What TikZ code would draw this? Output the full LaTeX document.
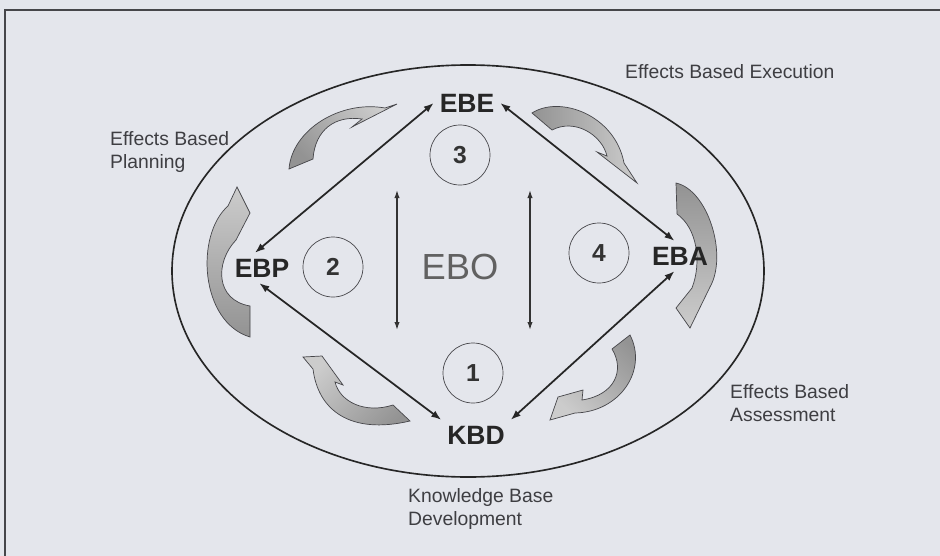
\documentclass[tikz,border=0pt]{standalone}
\usepackage{fontspec}
\setmainfont{Liberation Sans}
\usetikzlibrary{arrows.meta}

\definecolor{papier}{RGB}{228,230,236}
\definecolor{schrift}{RGB}{62,62,66}
\definecolor{rand}{RGB}{70,70,74}

\tikzset{
	phase/.style={font=\fontsize{22.6}{26}\selectfont\bfseries, text=black!85, inner sep=5pt},
	nummer/.style={circle, draw=rand, line width=0.6pt, minimum size=1.8cm, inner sep=0pt,
		font=\fontsize{21}{24}\selectfont\bfseries, text=black!80},
	beschr/.style={font=\fontsize{16.5}{19}\selectfont, text=schrift, align=left, anchor=west, inner sep=0pt},
	pfeil/.style={line width=1.5pt, draw=black!85, {Latex[length=3mm,width=2.2mm]}-{Latex[length=3mm,width=2.2mm]}},
	hochpfeil/.style={line width=1.1pt, draw=black!80, {Latex[length=2.4mm,width=1.6mm]}-{Latex[length=2.4mm,width=1.6mm]}},
	bogen/.style={draw=rand, line width=0.6pt, top color=gray!85, bottom color=gray!40, shading angle=#1}
}

\begin{document}
\begin{tikzpicture}[x=0.03cm, y=-0.03cm]
		%Hintergrund und Rahmen
		\fill [papier] (0,0) rectangle (940,556);
		\useasboundingbox (0,0) rectangle (940,556);
		\draw [line width=1.4pt, rand] (5,556) -- (5,10) -- (940,10);
		
		%Ellipse
		\draw [line width=1.4pt, black!85] (468,271) ellipse [x radius=296, y radius=206];
		
		%Kreislauf-Pfeile
		\shade[bogen=135] (289,169) .. controls (292,130) and (340,100) .. (385,108) -- (397,104) -- (352,127) -- (362,119) .. controls (335,115) and (315,130) .. (313,159) -- cycle;
		\shade[bogen=180] (250,337) .. controls (200,322) and (195,235) .. (228,206) -- (237,187) -- (250,213) -- (236,240) .. controls (215,262) and (215,300) .. (250,306) -- cycle;
		\shade[bogen=225] (410,421) .. controls (350,435) and (318,410) .. (313,369) -- (303,357) -- (322,356) -- (343,385) -- (335,382) .. controls (340,402) and (365,414) .. (393,405) -- cycle;
		\shade[bogen=-45] (630,335) .. controls (648,370) and (620,412) .. (575,413) -- (550,420) -- (558,397) -- (583,390) -- (582,400) .. controls (615,395) and (625,370) .. (612,349) -- cycle;
		\shade[bogen=0] (676,183) .. controls (708,190) and (728,255) .. (710,287) -- (690,328) -- (676,308) -- (692,288) .. controls (702,262) and (697,228) .. (677,214) -- cycle;
		\shade[bogen=90] (532,113) .. controls (560,95) and (615,115) .. (624,163) -- (637,183) -- (597,152) -- (607,156) .. controls (602,135) and (575,118) .. (552,130) -- cycle;
		
		%Phasen
		\node[phase] (EBE) at (467,103) {EBE};
		\node[phase] (EBP) at (262,268) {EBP};
		\node[phase] (EBA) at (680,256) {EBA};
		\node[phase] (KBD) at (476,435) {KBD};
		\node[font=\fontsize{31}{36}\selectfont, text=black!62] (EBO) at (460,267) {EBO};
		
		%Nummern
		\node[nummer] (n1) at (473,373) {1};
		\node[nummer] (n2) at (333,267) {2};
		\node[nummer] (n3) at (460,155) {3};
		\node[nummer] (n4) at (599,253) {4};
		
		%Beschriftung
		\node[beschr] (lEBE) at (625,72) {Effects Based Execution};
		\node[beschr] (lEBP) at (110,152) {Effects Based\\Planning};
		\node[beschr] (lEBA) at (730,403) {Effects Based\\Assessment};
		\node[beschr] (lKBD) at (408,509) {Knowledge Base\\Development};
		
		%Verbindungen
		\draw[pfeil] (EBE.west) -- (EBP.115);
		\draw[pfeil] (EBE.east) -- (EBA.110);
		\draw[pfeil] (EBP.260) -- (KBD.north west);
		\draw[pfeil] (EBA.250) -- (KBD.north east);
		
		\coordinate (lo) at (397,190);
		\coordinate (lu) at (397,330);
		\coordinate (ro) at (530,190);
		\coordinate (ru) at (530,330);
		\draw[hochpfeil] (lo) -- (lu);
		\draw[hochpfeil] (ro) -- (ru);
	\end{tikzpicture}
\end{document}
